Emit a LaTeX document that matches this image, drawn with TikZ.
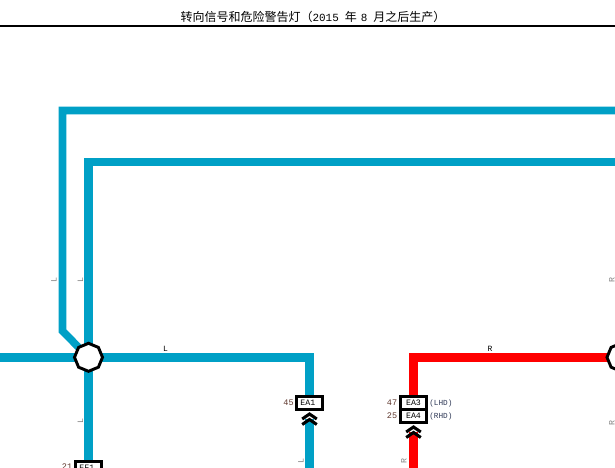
\documentclass[tikz,border=0pt]{standalone}
\usepackage{fontspec}
\usetikzlibrary{shapes.geometric,backgrounds}
\setmainfont{Liberation Mono}
\newfontfamily\cjk{Noto Sans CJK SC}
\definecolor{wireblue}{RGB}{0,160,198}
\definecolor{wirered}{RGB}{255,0,0}
\definecolor{pinbrown}{RGB}{95,55,45}
\definecolor{pinblue}{RGB}{45,55,85}
\begin{document}
\begin{tikzpicture}[x=0.75pt,y=-0.75pt,
  bluewire/.style={draw=wireblue,line width=6.4pt,line join=miter},
  thinblue/.style={draw=wireblue,line width=5.7pt,line join=miter},
  redwire/.style={draw=wirered,line width=6.4pt,line join=miter},
  hub/.style={regular polygon,regular polygon sides=8,shape border rotate=22.5,draw=black,fill=white,line width=2.2pt,inner sep=0pt,minimum size=21pt},
  conn/.style={draw=black,fill=white,line width=2.5pt,inner sep=0pt,minimum width=19.3pt,minimum height=9.4pt,font=\fontsize{6.2}{6}\selectfont,text=black},
  chev/.style={draw=black,line width=2.3pt,fill=none,line join=miter},
  pin/.style={font=\fontsize{6.4}{7}\selectfont,text=pinbrown,inner sep=0pt},
  tag/.style={font=\fontsize{5.8}{6}\selectfont,text=pinblue,inner sep=0pt,anchor=west},
  wlabel/.style={font=\fontsize{6}{6}\selectfont,inner sep=0pt},
  sidelabel/.style={font=\fontsize{6.2}{6}\selectfont,text=gray,inner sep=0pt,rotate=90}]
\useasboundingbox (0,0) rectangle (615,468);
% header
\node[font=\cjk\fontsize{9}{10}\selectfont,inner sep=0pt] (title) at (313,17)
  {转向信号和危险警告灯（{\rmfamily\fontsize{8.2}{10}\selectfont 2015}\hspace{4.5pt}年\hspace{3pt}{\rmfamily\fontsize{8.2}{10}\selectfont 8}\hspace{4.5pt}月之后生产）};
\coordinate (ruleL) at (0,25.7); \coordinate (ruleR) at (615,25.7);
\draw[line width=1.8pt] (ruleL) -- (ruleR);
% hubs and connectors
\node[hub] (hubA) at (88.5,357.3) {};
\node[hub] (hubB) at (621,357.3) {};
\node[conn] (ea1) at (309.5,402.9) {\kern-2.5pt EA1};
\node[conn] (ef1) at (88.5,467.8) {\kern-2.5pt EF1};
\node[conn] (ea3) at (413.5,402.9) {EA3};
\node[conn,minimum height=9.8pt] (ea4) at (413.5,415.7) {EA4};
% free ends
\coordinate (t1) at (615,110.5);
\coordinate (t2) at (615,162);
\coordinate (leftend) at (0,357.3);
\coordinate (bendBlue) at (309.5,357.3);
\coordinate (bendRed) at (413.5,357.3);
\coordinate (blueTop) at (309.5,419);
\coordinate (blueBot) at (309.5,468);
\coordinate (redTop) at (413.5,432);
\coordinate (redBot) at (413.5,468);
% wires
\begin{scope}[on background layer]
\draw[thinblue] (t1) -- (62.5,110.5) -- (62.5,331) -- (hubA.center);
\draw[bluewire] (t2) -- (88.5,162) -- (hubA.center);
\draw[bluewire] (leftend) -- (hubA.center);
\draw[bluewire] (hubA.center) -- (ef1.center);
\draw[bluewire] (hubA.center) -- (bendBlue) -- (ea1.center);
\draw[bluewire] (blueTop) -- (blueBot);
\draw[redwire] (hubB.center) -- (bendRed) -- (ea3.center);
\draw[redwire] (redTop) -- (redBot);
\end{scope}
% chevrons
\draw[chev] (302.2,419) -- (309.5,414) -- (316.8,419);
\draw[chev] (302.2,424.5) -- (309.5,419.5) -- (316.8,424.5);
\draw[chev] (406.2,432) -- (413.5,427) -- (420.8,432);
\draw[chev] (406.2,437.5) -- (413.5,432.5) -- (420.8,437.5);
% labels
\node[wlabel] (lab1) at (165.5,349) {L};
\node[wlabel] (lab2) at (490,349) {R};
\node[sidelabel] (s1) at (54,280) {L};
\node[sidelabel] (s2) at (80.3,280) {L};
\node[sidelabel] (s3) at (80.3,421.5) {L};
\node[sidelabel] (s4) at (301,461) {L};
\node[sidelabel] (s5) at (404,461) {R};
\node[sidelabel] (s6) at (612,280.5) {R};
\node[sidelabel] (s7) at (612,423) {R};
\node[pin] (p45) at (288.5,403) {45};
\node[pin] (p47) at (392,403) {47};
\node[pin] (p25) at (392,416) {25};
\node[pin] (p21) at (67,467) {21};
\node[tag] (lhd) at (429,403) {(LHD)};
\node[tag] (rhd) at (429,416) {(RHD)};
\end{tikzpicture}
\end{document}
